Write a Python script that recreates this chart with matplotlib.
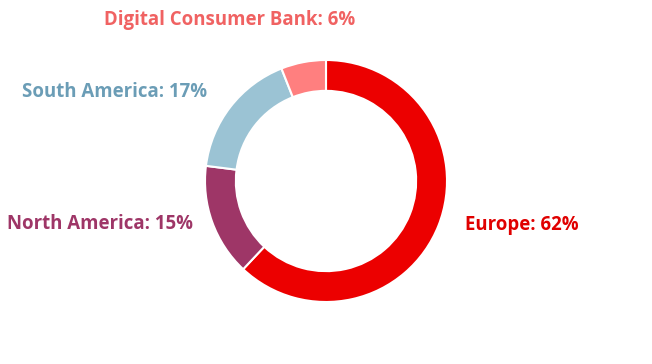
import matplotlib.pyplot as plt

regions = ['Europe', 'North America', 'South America', 'Digital Consumer Bank']
shares = [62, 15, 17, 6]
wedge_colors = ['#ec0000', '#9e3667', '#9bc3d4', '#ff7f7f']
text_colors = ['#e00000', '#9e3667', '#6b9db6', '#f06262']

W, H = 652, 364
fig = plt.figure(figsize=(W / 100, H / 100), dpi=100)

# donut: centre (326,181) px, outer radius 121 px
cx, cy, r = 326, 181, 121
ax = fig.add_axes([(cx - r) / W, (H - cy - r) / H, 2 * r / W, 2 * r / H])
ax.pie(shares, colors=wedge_colors, startangle=90, counterclock=False,
       radius=1, wedgeprops=dict(width=0.255, edgecolor='white', linewidth=1.5))
ax.set_xlim(-1, 1)
ax.set_ylim(-1, 1)
ax.set_aspect('equal')
ax.axis('off')

plt.rcParams['font.family'] = ['Open Sans', 'DejaVu Sans']

# label anchors in pixels (x, y, ha)
spots = [(465, 225, 'left'), (193, 224, 'right'), (207, 92, 'right'), (230, 20, 'center')]
for name, val, col, (x, y, ha) in zip(regions, shares, text_colors, spots):
    fig.text(x / W, 1 - y / H, f'{name}: {val}%', color=col, ha=ha, va='center',
             fontsize=13.4, fontweight='bold')

fig.savefig('out.png', dpi=100, facecolor='white')
